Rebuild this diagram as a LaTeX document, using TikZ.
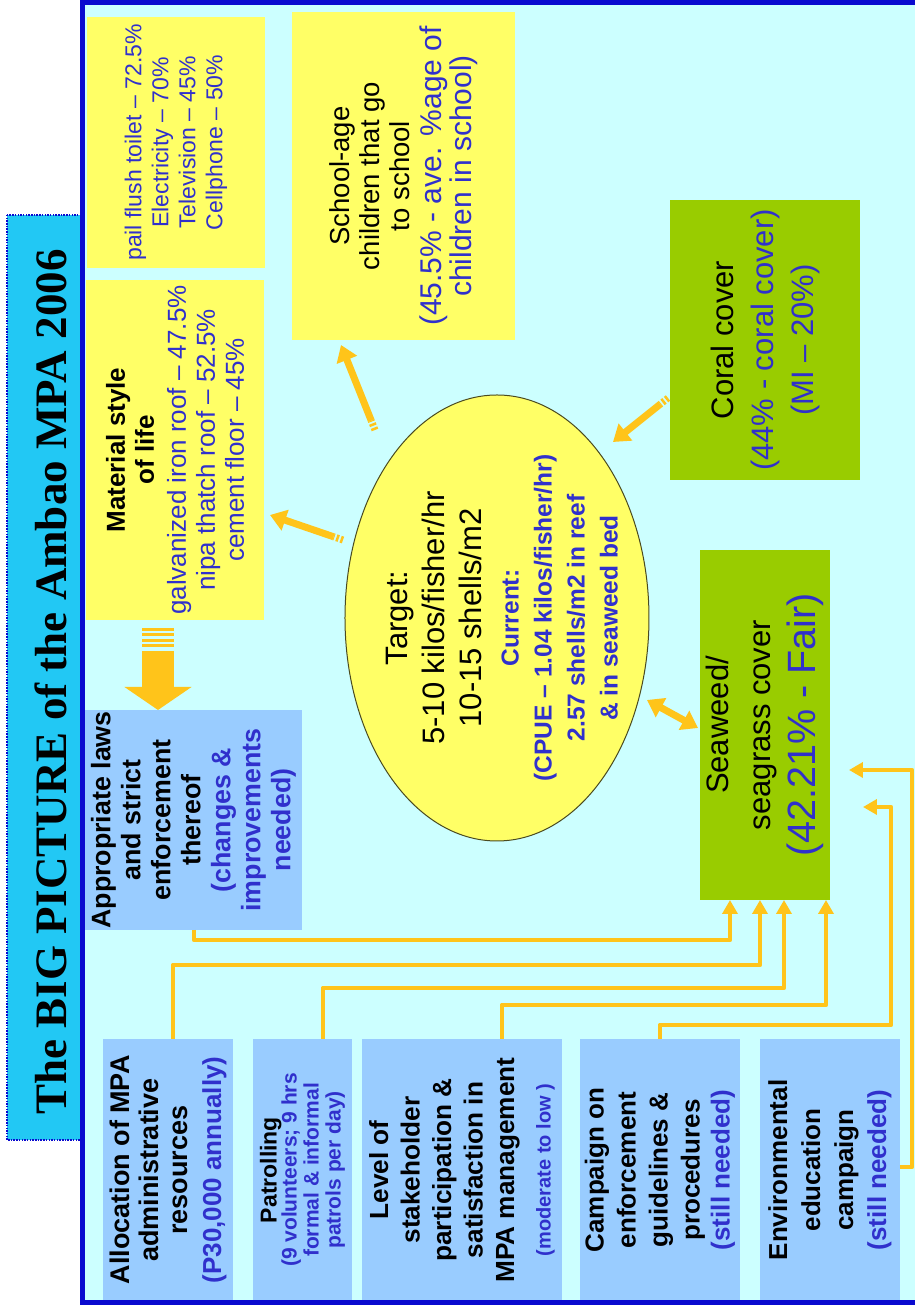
\documentclass[tikz,border=0pt]{standalone}
\usepackage{fontspec}
\setmainfont{Liberation Sans}
\newfontfamily\headfont{Liberation Serif}
\usetikzlibrary{arrows.meta,shapes.geometric,calc}

\definecolor{paper}{HTML}{CCFFFF}
\definecolor{framec}{HTML}{0A0ACF}
\definecolor{titlefill}{HTML}{22C8F4}
\definecolor{boxyellow}{HTML}{FFFF66}
\definecolor{boxgreen}{HTML}{99CC00}
\definecolor{boxblue}{HTML}{99CCFF}
\definecolor{linkc}{HTML}{FFC41A}
\definecolor{note}{HTML}{3030CC}
\definecolor{rimc}{HTML}{4A4A20}

\newcommand\sz[2]{\fontsize{#1}{#2}\selectfont}
\newcommand\hl[1]{\textcolor{note}{#1}}

\tikzset{
  card/.style={inner sep=0pt, outer sep=0pt, align=center},
  yellowcard/.style={card, fill=boxyellow},
  greencard/.style={card, fill=boxgreen},
  bluecard/.style={card, fill=boxblue},
  link/.style={draw=linkc, line width=4.8pt, line join=round,
               -{Triangle[width=15pt,length=14pt]}},
  fatlink/.style={draw=linkc, line width=7pt,
               -{Triangle[width=21pt,length=16pt]}},
  fatboth/.style={draw=linkc, line width=7pt,
               {Triangle[width=21pt,length=16pt]}-{Triangle[width=21pt,length=16pt]}},
  stripes/.style={draw=linkc, line width=7pt, dash pattern=on 2.5pt off 2pt},
}

\begin{document}
% The slide is laid out in its own landscape frame and turned a quarter turn.
\begin{tikzpicture}[x=1pt, y=1pt, rotate=90, transform shape]
\useasboundingbox (0,0) rectangle (1307,915);
\fill[white] (0,0) rectangle (1307,915);
\fill[paper] (4,0) rectangle (1304,832);

% title banner
\node[fill=titlefill, draw=framec, line width=1.8pt, dash pattern=on 1.5pt off 1.2pt,
      minimum width=925pt, minimum height=76pt, inner sep=0pt] (banner) at (629.5,870) {};
\node[font=\headfont\bfseries\sz{45}{50}, inner sep=0pt] (title) at (625,864)
  {The BIG PICTURE of the Ambao MPA 2006};

% household indicators
\node[yellowcard, minimum width=251pt, minimum height=178pt, font=\sz{23}{27}, text=note]
  (amenity) at (1164.5,739)
  {pail flush toilet – 72.5\%\\Electricity – 70\%\\Television – 45\%\\Cellphone – 50\%};
\node[yellowcard, minimum width=340pt, minimum height=178pt, font=\sz{26}{29}]
  (material) at (857,740)
  {\textbf{Material style}\\\textbf{of life}\\[3pt]\hl{galvanized iron roof – 47.5\%}\\
   \hl{nipa thatch roof – 52.5\%}\\\hl{cement floor – 45\%}};
\node[yellowcard, minimum width=328pt, minimum height=223pt, font=\sz{27.5}{30}]
  (school) at (1131,511.5)
  {School-age\\children that go\\to school\\[2pt]\hl{\sz{30}{30}(45.5\% - ave. \%age of}\\
   \hl{\sz{30}{30}children in school)}};

% habitat indicators
\node[greencard, minimum width=280pt, minimum height=190pt, font=\sz{31}{40}]
  (coral) at (967,150)
  {Coral cover\\\hl{(44\% - coral cover)}\\\hl{(MI – 20\%)}};
\node[greencard, minimum width=350pt, minimum height=130pt, font=\sz{31}{42}]
  (seagrass) at (582,150)
  {Seaweed/\\seagrass cover\\[3pt]\hl{\sz{39.5}{46}(42.21\% - Fair)}};

% catch target
\node[ellipse, draw=rimc, line width=1pt, fill=boxyellow, minimum width=446pt,
      minimum height=304pt, inner sep=0pt] (target) at (689,418) {};
\node[align=center, font=\sz{24.5}{33}, inner sep=0pt] (targettext) at (689,413)
  {\sz{31}{37}Target:\\[4pt]\sz{31}{37}5-10 kilos/fisher/hr\\[4pt]\sz{31}{37}10-15 shells/m2\\[4pt]
   \hl{\textbf{Current:}}\\\hl{\textbf{(CPUE – 1.04 kilos/fisher/hr)}}\\
   \hl{\textbf{2.57 shells/m2 in reef}}\\\hl{\textbf{\& in seaweed bed}}};

% management inputs
\node[bluecard, minimum width=220pt, minimum height=217pt, font=\sz{26.8}{30}\bfseries]
  (laws) at (487,721.5)
  {Appropriate laws\\and strict\\enforcement\\thereof\\\hl{(changes \&}\\\hl{improvements}\\\hl{needed)}};
\node[bluecard, minimum width=262pt, minimum height=130pt, font=\sz{27}{29}\bfseries]
  (alloc) at (137,747)
  {Allocation of MPA\\administrative\\resources\\[5pt]\hl{\sz{26}{29}(P30,000 annually)}};
\node[bluecard, minimum width=262pt, minimum height=99pt, font=\sz{21}{22}\bfseries]
  (patrol) at (137,612.5)
  {\sz{23}{22}Patrolling\\[-2pt]\hl{(9 volunteers; 9 hrs}\\\hl{formal \& informal}\\\hl{patrols per day)}};
\node[bluecard, minimum width=262pt, minimum height=200pt, font=\sz{26.2}{31.5}\bfseries]
  (stake) at (137,453)
  {Level of\\stakeholder\\participation \&\\satisfaction in\\MPA management\\[5pt]
   \hl{\sz{20}{31}(moderate to low )}};
\node[bluecard, minimum width=262pt, minimum height=160pt, font=\sz{26}{32}\bfseries]
  (campaign) at (137,255)
  {Campaign on\\enforcement\\guidelines \&\\procedures\\[-2pt]\hl{(still needed)}};
\node[bluecard, minimum width=262pt, minimum height=140pt, font=\sz{26}{33}\bfseries]
  (enviro) at (137,85)
  {Environmental\\education\\campaign\\\hl{(still needed)}};

% slide frame
\draw[framec, line width=5pt] (4,-10) -- (4,832) -- (1304,832) -- (1304,-10);

% elbow connectors into the seagrass box
\coordinate (k1) at (367,721); \coordinate (k1b) at (367,185);
\draw[link] (laws.west |- k1) -- (k1) -- (k1b) -- (seagrass.west |- k1b);
\coordinate (k2) at (342,742); \coordinate (k2b) at (342,155);
\draw[link] (alloc.east |- k2) -- (k2) -- (k2b) -- (seagrass.west |- k2b);
\coordinate (k3) at (319,592); \coordinate (k3b) at (319,131);
\draw[link] (patrol.east |- k3) -- (k3) -- (k3b) -- (seagrass.west |- k3b);
\coordinate (k4) at (302,413); \coordinate (k4b) at (302,89);
\draw[link] (stake.east |- k4) -- (k4) -- (k4b) -- (seagrass.west |- k4b);
\coordinate (k5) at (282,255); \coordinate (k5b) at (282,24);
\coordinate (k5c) at (500,24); \coordinate (k5d) at (500,52);
\draw[link] (campaign.east |- k5) -- (k5) -- (k5b) -- (k5c) -- (k5d);
\coordinate (k6) at (140,3); \coordinate (k6b) at (537,3); \coordinate (k6c) at (537,66);
\draw[link] (k6 |- enviro.south) -- (k6) -- (k6b) -- (k6c);

% striped arrows around the target
\coordinate (d1a) at (767,572); \coordinate (d1b) at (792,645);
\draw[stripes] (d1a) -- ($(d1a)!10pt!(d1b)$);
\draw[fatlink] ($(d1a)!10pt!(d1b)$) -- (d1b);
\coordinate (d2a) at (877,540); \coordinate (d2b) at (962,574);
\draw[stripes] (d2a) -- ($(d2a)!10pt!(d2b)$);
\draw[fatlink] ($(d2a)!10pt!(d2b)$) -- (d2b);
\coordinate (d3a) at (909,247); \coordinate (d3b) at (865,302);
\draw[stripes] (d3a) -- ($(d3a)!10pt!(d3b)$);
\draw[fatlink] ($(d3a)!10pt!(d3b)$) -- (d3b);
\coordinate (d4a) at (607,268); \coordinate (d4b) at (579,217);
\draw[fatboth] (d4a) -- (d4b);

% broad arrow from living standards to the laws box
\coordinate (spine) at (0,757);
\coordinate (s0) at (679,757); \coordinate (s1) at (657,757);
\draw[linkc, line width=32pt, dash pattern=on 3pt off 2.5pt] (s0) -- (s1);
\draw[linkc, line width=32pt, -{Triangle[width=66pt,length=23pt]}, shorten <=31pt]
  (material.west |- spine) -- (laws.east |- spine);
\end{tikzpicture}
\end{document}
